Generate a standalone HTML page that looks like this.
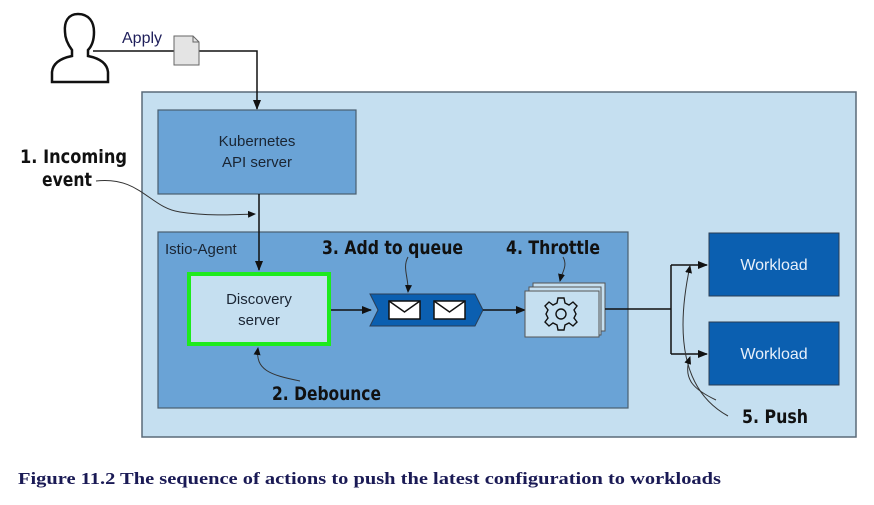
<!DOCTYPE html>
<html><head><meta charset="utf-8"><style>
html,body{margin:0;padding:0;background:#fff;width:874px;height:505px;overflow:hidden}
svg{display:block}
.s{font-family:"Liberation Sans",sans-serif}
.b{font-family:"DejaVu Sans","Liberation Sans",sans-serif;font-weight:bold;fill:#111}
</style></head><body>
<svg width="874" height="505" viewBox="0 0 874 505" xmlns="http://www.w3.org/2000/svg">
<defs>
<marker id="a" markerWidth="10" markerHeight="8" refX="9" refY="4" orient="auto" markerUnits="userSpaceOnUse"><path d="M0,0 L10,4 L0,8 Z" fill="#111"/></marker>
<marker id="t" markerWidth="8" markerHeight="7" refX="7" refY="3.5" orient="auto" markerUnits="userSpaceOnUse"><path d="M0,0 L8,3.5 L0,7 Z" fill="#111"/></marker>
</defs>
<!-- outer -->
<rect x="142" y="92" width="714" height="345" fill="#c5dff0" stroke="#5a6a78" stroke-width="1.5"/>
<!-- person -->
<path d="M78,14 C68,14 64,22 65,32 C65,40 69,46 72,50 L72,56 C62,58 53,62 52,72 L52,82 L108,82 L108,72 C107,62 98,58 88,56 L88,50 C92,46 94,40 94,32 C94,22 89,14 78,14 Z" fill="#fff" stroke="#111" stroke-width="2.5"/>
<text x="122" y="43" class="s" font-size="16" fill="#1e1e5a">Apply</text>
<line x1="93" y1="51" x2="174" y2="51" stroke="#111" stroke-width="1.5"/>
<polyline points="199,51 257,51 257,109" fill="none" stroke="#111" stroke-width="1.5" marker-end="url(#a)"/>
<path d="M174,36 L193,36 L199,42 L199,65 L174,65 Z" fill="#e4e4e4" stroke="#666" stroke-width="1"/>
<path d="M193,36 L193,42 L199,42" fill="none" stroke="#666"/>
<rect x="158" y="110" width="198" height="84" fill="#6aa3d6" stroke="#4a5e70" stroke-width="1.2"/>
<text x="257" y="146" class="s" font-size="15" fill="#1a2533" text-anchor="middle">Kubernetes</text>
<text x="257" y="167" class="s" font-size="15" fill="#1a2533" text-anchor="middle">API server</text>
<rect x="158" y="232" width="470" height="176" fill="#6aa3d6" stroke="#4a5e70" stroke-width="1.2"/>
<text x="165" y="254" class="s" font-size="15" fill="#1a2533">Istio-Agent</text>
<line x1="259" y1="194" x2="259" y2="270" stroke="#111" stroke-width="1.5" marker-end="url(#a)"/>
<rect x="189" y="274" width="140" height="70" fill="#c5dff0" stroke="#1eea1e" stroke-width="4"/>
<text x="259" y="304" class="s" font-size="15" fill="#1a2533" text-anchor="middle">Discovery</text>
<text x="259" y="325" class="s" font-size="15" fill="#1a2533" text-anchor="middle">server</text>
<line x1="331" y1="310" x2="371" y2="310" stroke="#111" stroke-width="1.5" marker-end="url(#a)"/>
<!-- queue -->
<path d="M370,294 L475,294 L483,310 L475,326 L370,326 L378,310 Z" fill="#0b5fb0" stroke="#2a3e55" stroke-width="1"/>
<rect x="389" y="301" width="31" height="18" fill="#fff" stroke="#111" stroke-width="1.5"/>
<path d="M389,301 L404.5,312 L420,301" fill="none" stroke="#111" stroke-width="1.5"/>
<rect x="434" y="301" width="31" height="18" fill="#fff" stroke="#111" stroke-width="1.5"/>
<path d="M434,301 L449.5,312 L465,301" fill="none" stroke="#111" stroke-width="1.5"/>
<line x1="483" y1="310" x2="525" y2="310" stroke="#111" stroke-width="1.5" marker-end="url(#a)"/>
<!-- throttle -->
<rect x="533" y="283" width="72" height="48" fill="#c5dff0" stroke="#555" stroke-width="1"/>
<rect x="529" y="287" width="72" height="48" fill="#c5dff0" stroke="#555" stroke-width="1"/>
<rect x="525" y="291" width="74" height="46" fill="#c5dff0" stroke="#555" stroke-width="1"/>
<g transform="translate(561,314)" fill="none" stroke="#111" stroke-width="1.4">
<path d="M-3,-16 L3,-16 L4,-11 L8,-9 L12,-12 L16,-8 L13,-4 L15,0 L13,4 L16,8 L12,12 L8,9 L4,11 L3,16 L-3,16 L-4,11 L-8,9 L-12,12 L-16,8 L-13,4 L-15,0 L-13,-4 L-16,-8 L-12,-12 L-8,-9 L-4,-11 Z"/>
<circle r="5"/>
</g>
<!-- to workloads -->
<polyline points="605,309 671,309" fill="none" stroke="#111" stroke-width="1.5"/>
<polyline points="671,265 671,354" fill="none" stroke="#111" stroke-width="1.5"/>
<line x1="671" y1="265" x2="707" y2="265" stroke="#111" stroke-width="1.5" marker-end="url(#a)"/>
<line x1="671" y1="354" x2="707" y2="354" stroke="#111" stroke-width="1.5" marker-end="url(#a)"/>
<rect x="709" y="233" width="130" height="63" fill="#0b5fb0" stroke="#2a3e55" stroke-width="1"/>
<text x="774" y="270" class="s" font-size="16" fill="#e8f0fa" text-anchor="middle">Workload</text>
<rect x="709" y="322" width="130" height="63" fill="#0b5fb0" stroke="#2a3e55" stroke-width="1"/>
<text x="774" y="359" class="s" font-size="16" fill="#e8f0fa" text-anchor="middle">Workload</text>
<!-- annotations -->
<text x="20" y="163" class="b" font-size="19" textLength="107" lengthAdjust="spacingAndGlyphs">1. Incoming</text>
<text x="42" y="186" class="b" font-size="19" textLength="50" lengthAdjust="spacingAndGlyphs">event</text>
<path d="M96,181 C140,176 150,208 180,212 C205,216 230,215 255,214" fill="none" stroke="#333" stroke-width="1" marker-end="url(#t)"/>
<text x="272" y="400" class="b" font-size="19" textLength="109" lengthAdjust="spacingAndGlyphs">2. Debounce</text>
<path d="M300,381 C270,375 255,370 258,348" fill="none" stroke="#333" stroke-width="1" marker-end="url(#t)"/>
<text x="322" y="254" class="b" font-size="19" textLength="141" lengthAdjust="spacingAndGlyphs">3. Add to queue</text>
<path d="M408,257 C402,268 409,278 408,292" fill="none" stroke="#333" stroke-width="1" marker-end="url(#t)"/>
<text x="506" y="254" class="b" font-size="19" textLength="94" lengthAdjust="spacingAndGlyphs">4. Throttle</text>
<path d="M563,257 C568,266 562,272 560,281" fill="none" stroke="#333" stroke-width="1" marker-end="url(#t)"/>
<text x="742" y="423" class="b" font-size="19" textLength="66" lengthAdjust="spacingAndGlyphs">5. Push</text>
<path d="M728,416 C690,395 672,350 690,266" fill="none" stroke="#333" stroke-width="1" marker-end="url(#t)"/>
<path d="M716,400 C695,390 682,380 690,357" fill="none" stroke="#333" stroke-width="1" marker-end="url(#t)"/>
<!-- caption -->
<text x="18" y="484" font-family="'Liberation Serif',serif" font-weight="bold" font-size="17" fill="#1a1a55" textLength="703" lengthAdjust="spacingAndGlyphs">Figure 11.2 The sequence of actions to push the latest configuration to workloads</text>
</svg>
</body></html>
